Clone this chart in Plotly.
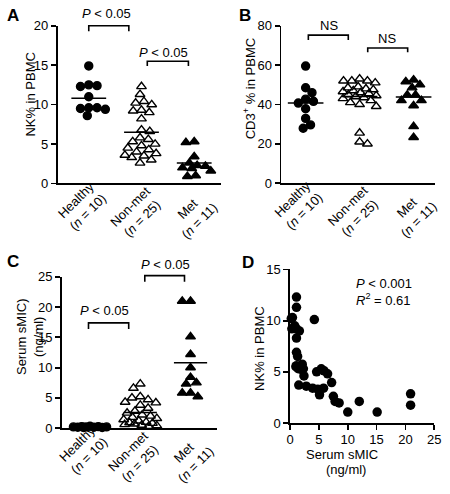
import numpy as np
import plotly.graph_objects as go

W, H = 450, 494
FONT = "Liberation Sans, Arial, Helvetica, sans-serif"

# ---------------- data ----------------
categories = ["Healthy", "Non-met", "Met"]
group_sizes = [10, 25, 11]

# Panel A: NK% in PBMC
nk_healthy = [14.9, 12.4, 12.3, 12.5, 11.0, 9.6, 9.4, 9.5, 9.6, 8.6]
nk_nonmet = [12.3, 11.3, 10.4, 10.2, 10.0, 9.3, 9.2, 9.0, 8.2, 6.8, 6.6, 5.8, 5.6,
             5.3, 5.0, 4.8, 4.5, 4.3, 4.0, 3.8, 3.6, 3.5, 3.3, 3.0, 2.6]
nk_met = [5.2, 5.3, 3.4, 2.6, 2.3, 2.2, 2.0, 1.9, 1.6, 1.0, 0.9]
nk_means = [10.8, 6.5, 2.6]

# Panel B: CD3+ % in PBMC
cd3_healthy = [59.5, 48.5, 46.0, 42.7, 40.7, 41.6, 37.8, 32.9, 29.6, 27.9]
cd3_nonmet = [53, 52, 52, 52, 51, 49, 48.5, 48, 47.5, 47, 46.5, 46, 45.5, 45, 44.5,
              44, 43.5, 43, 42, 41, 40, 39, 25.5, 21, 20]
cd3_met = [52.5, 51.6, 50, 48.5, 44.8, 44.8, 42, 42, 39.4, 28.8, 23.3]
cd3_means = [40.7, 44.0, 43.8]

# Panel C: Serum sMIC (ng/ml)
smic_healthy = [0.15, 0.2, 0.25, 0.1, 0.3, 0.2, 0.15, 0.25, 0.2, 0.1]
smic_nonmet = [7.3, 6.6, 5.2, 5.0, 4.7, 4.3, 4.2, 3.8, 3.3, 2.8, 2.5, 2.2, 2.0, 1.8,
               1.6, 1.4, 1.2, 1.0, 0.9, 0.8, 0.7, 0.6, 0.5, 0.4, 0.3]
smic_met = [21.0, 21.0, 15.1, 12.2, 10.0, 8.4, 7.5, 7.3, 5.8, 5.2, 5.8]
smic_means = [0.2, 2.6, 10.8]

# Panel D: correlation
corr_smic = [1.1, 1.1, 0.4, 4.2, 0.3, 1.1, 1.6, 1.1, 1.1, 1.3, 1.1, 1.4, 2.1, 2.3,
             2.4, 1.5, 2.8, 3.9, 4.8, 5.8, 5.1, 4.6, 5.4, 5.9, 6.5, 7.2, 7.5, 7.8,
             8.5, 10.0, 12.0, 15.1, 20.9, 20.9, 0.2, 0.8, 1.0, 1.6, 2.0]
corr_nk = [12.3, 11.3, 10.3, 10.1, 9.2, 9.2, 9.0, 8.3, 6.9, 6.5, 5.6, 5.3, 5.75, 5.3,
           4.6, 3.7, 3.6, 3.4, 3.3, 3.4, 2.75, 5.0, 5.3, 5.1, 4.8, 3.95, 2.6, 2.1,
           1.96, 1.07, 2.1, 1.07, 2.85, 1.74, 10.2, 9.5, 5.5, 5.5, 5.2]

# ---------------- layout geometry (pixels) ----------------
panels = {
    "A": dict(px=(55, 222), py=(19.3, 182), xr=(-0.59, 2.5), yr=(0, 20)),
    "B": dict(px=(284.3, 442), py=(19.3, 181.7), xr=(-0.45, 2.4), yr=(0, 80)),
    "C": dict(px=(59.3, 218), py=(278.3, 434.3), xr=(-0.56, 2.52), yr=(0, 25)),
    "D": dict(px=(293.3, 441), py=(270.7, 429), xr=(0, 25), yr=(0, 15)),
}
axis_ids = {"A": ("x", "y"), "B": ("x2", "y2"), "C": ("x3", "y3"), "D": ("x4", "y4")}


def scales(p):
    P = panels[p]
    xs = (P["px"][1] - P["px"][0]) / (P["xr"][1] - P["xr"][0])
    ys = (P["py"][1] - P["py"][0]) / (P["yr"][1] - P["yr"][0])
    return xs, ys


def d2p(p, x, y):
    """data -> paper coordinates for panel p"""
    P = panels[p]
    xs, ys = scales(p)
    xpx = P["px"][0] + (x - P["xr"][0]) * xs
    ypx = P["py"][1] - (y - P["yr"][0]) * ys
    return xpx / W, 1 - ypx / H


def px2p(xpx, ypx):
    return xpx / W, 1 - ypx / H


def swarm(values, p, diam, maxhalf):
    xs, ys = scales(p)
    vals = np.asarray(values, float)
    order = np.argsort(-vals, kind="stable")
    cands = np.arange(-maxhalf, maxhalf + 0.01, 0.5)
    placed = []
    offs = np.zeros(len(vals))
    for k, i in enumerate(order):
        yp = vals[i] * ys
        sgn = 1 if k % 2 == 0 else -1
        cs = sorted(cands, key=lambda c: (abs(c), -sgn * c))
        best, bestd = 0.0, -1
        for c in cs:
            d = min((np.hypot(c - a, yp - b) for a, b in placed), default=1e9)
            if d >= diam:
                best = c
                break
            if d > bestd:
                bestd, best = d, c
        placed.append((best, yp))
        offs[i] = best / xs
    return offs


fig = go.Figure()

symbols = ["circle", "triangle-up-open", "triangle-up"]


def add_group_panel(p, groups, means):
    xa, ya = axis_ids[p]
    for i, vals in enumerate(groups):
        sym = symbols[i]
        size = 8 if sym == "circle" else 8.5
        offs = swarm(vals, p, 8.2, 17)
        fig.add_trace(go.Scatter(
            x=i + offs, y=vals, mode="markers", xaxis=xa, yaxis=ya,
            marker=dict(symbol=sym, size=size, color="black",
                        line=dict(width=1.4, color="black")),
            cliponaxis=False, showlegend=False, hoverinfo="skip"))
        fig.add_trace(go.Scatter(
            x=[i - 0.33, i + 0.33], y=[means[i], means[i]], mode="lines",
            xaxis=xa, yaxis=ya, line=dict(color="black", width=1.5),
            showlegend=False, hoverinfo="skip"))


add_group_panel("A", [nk_healthy, nk_nonmet, nk_met], nk_means)
add_group_panel("B", [cd3_healthy, cd3_nonmet, cd3_met], cd3_means)
add_group_panel("C", [smic_healthy, smic_nonmet, smic_met], smic_means)

fig.add_trace(go.Scatter(
    x=corr_smic, y=corr_nk, mode="markers", xaxis="x4", yaxis="y4",
    marker=dict(symbol="circle", size=9.5, color="black"),
    cliponaxis=False, showlegend=False, hoverinfo="skip"))

# ---------------- axes ----------------
cat_labels = [f"{c}<br>(<i>n</i> = {n})" for c, n in zip(categories, group_sizes)]

yticks = {"A": [0, 5, 10, 15, 20], "B": [0, 20, 40, 60, 80],
          "C": [0, 5, 10, 15, 20, 25], "D": [0, 5, 10, 15]}

common = dict(showgrid=False, zeroline=False, showline=True, linecolor="black",
              linewidth=1.8, tickfont=dict(family=FONT, size=13, color="black"),
              fixedrange=True, ticklabeloverflow="allow")

layout_axes = {}
for p, (xa, ya) in axis_ids.items():
    P = panels[p]
    xk = "xaxis" if xa == "x" else "xaxis" + xa[1:]
    yk = "yaxis" if ya == "y" else "yaxis" + ya[1:]
    xdom = [P["px"][0] / W, P["px"][1] / W]
    ydom = [1 - P["py"][1] / H, 1 - P["py"][0] / H]
    if p == "D":
        xax = dict(common, domain=xdom, range=list(P["xr"]), anchor=ya,
                   tickvals=[0, 5, 10, 15, 20, 25], ticks="outside", ticklen=5,
                   tickwidth=1.8, tickcolor="black", ticklabelstandoff=-1)
    else:
        xax = dict(common, domain=xdom, range=list(P["xr"]), anchor=ya,
                   tickvals=[0, 1, 2], ticks="", showticklabels=False)
    yax = dict(common, domain=ydom, range=list(P["yr"]), anchor=xa,
               tickvals=yticks[p], ticks="outside", ticklen=5, tickwidth=1.8,
               tickcolor="black")
    layout_axes[xk] = xax
    layout_axes[yk] = yax

# ---------------- brackets & annotations ----------------
shapes = []
annotations = []


def bracket(p, x0, x1, ytop, ydrop, label, tx, ty):
    a = d2p(p, x0, ydrop)
    b = d2p(p, x0, ytop)
    c = d2p(p, x1, ytop)
    d = d2p(p, x1, ydrop)
    path = f"M{a[0]},{a[1]} L{b[0]},{b[1]} L{c[0]},{c[1]} L{d[0]},{d[1]}"
    shapes.append(dict(type="path", path=path, xref="paper", yref="paper",
                       line=dict(color="black", width=1.6)))
    t = d2p(p, tx, ty)
    annotations.append(dict(text=label, x=t[0], y=t[1], xref="paper", yref="paper",
                            xanchor="center", yanchor="middle", showarrow=False,
                            font=dict(family=FONT, size=13, color="black")))


PLAB = "<i>P</i> < 0.05"
bracket("A", 0.0, 0.76, 20.0, 19.3, PLAB, 0.33, 21.5)
bracket("A", 1.11, 1.89, 15.5, 14.9, PLAB, 1.41, 16.6)
bracket("B", 0.05, 0.79, 75.2, 72.7, "NS", 0.43, 80.3)
bracket("B", 1.15, 1.89, 68.7, 66.5, "NS", 1.5, 73.3)
bracket("C", -0.03, 0.77, 17.4, 16.4, PLAB, 0.29, 19.5)
bracket("C", 1.09, 1.88, 25.2, 24.2, PLAB, 1.5, 27.1)


def text_px(s, xpx, ypx, size=13, angle=0, xanchor="center", align="center",
            bold=False):
    x, y = px2p(xpx, ypx)
    annotations.append(dict(text=f"<b>{s}</b>" if bold else s, x=x, y=y,
                            xref="paper", yref="paper", xanchor=xanchor,
                            yanchor="middle", showarrow=False, textangle=angle,
                            align=align, borderpad=0,
                            font=dict(family=FONT, size=size, color="black")))


# rotated category labels (centre of the rotated block, relative to category)
label_dx = [-7, -6, -1]
label_dy = [23, 30, 32]
for p in ["A", "B", "C"]:
    P = panels[p]
    for i, lab in enumerate(cat_labels):
        xp, _ = d2p(p, i, 0)
        text_px(lab, xp * W + label_dx[i], P["py"][1] + label_dy[i], size=13,
                angle=-45)

# panel letters
text_px("A", 9, 9, size=17, bold=True)
text_px("B", 247, 9, size=17, bold=True)
text_px("C", 9, 262, size=17, bold=True)
text_px("D", 250, 263, size=17, bold=True)

# axis titles
text_px("NK% in PBMC", 27, 90, angle=-90)
text_px("CD3<sup>+</sup> % in PBMC", 252, 84, angle=-90)
text_px("Serum sMIC)<br>(ng/ml)", 26, 340, angle=-90)
text_px("NK% in PBMC", 262, 352, angle=-90)
text_px("Serum sMIC", 346, 462)
text_px("(ng/ml)", 351, 477)

# statistics in D
text_px("<i>P</i> < 0.001<br><i>R</i><sup>2</sup> = 0.61", 419, 294,
        xanchor="right", align="left")

fig.update_layout(
    width=W, height=H, autosize=False,
    margin=dict(l=0, r=0, t=0, b=0),
    paper_bgcolor="white", plot_bgcolor="white",
    font=dict(family=FONT, size=13, color="black"),
    shapes=shapes, annotations=annotations,
    **layout_axes)

fig.write_html("out.html",
               config={"displayModeBar": False, "staticPlot": True},
               post_script="document.body.style.margin='0';"
                           "document.body.style.overflow='hidden';")
